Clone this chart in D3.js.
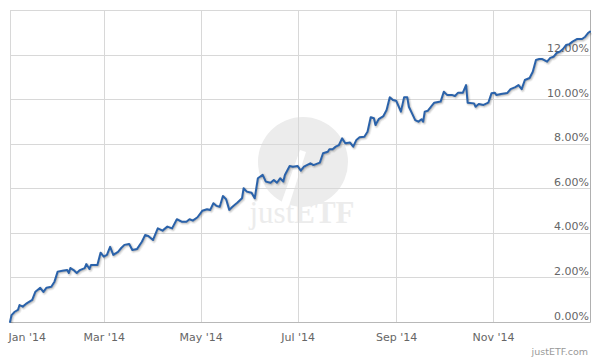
<!DOCTYPE html>
<html><head><meta charset="utf-8">
<script src="https://cdn.jsdelivr.net/npm/d3@7"></script>
<style>body{margin:0;background:#fff}svg{display:block;font-family:"DejaVu Sans",sans-serif}</style>
</head><body><svg id="c" width="600" height="360"></svg>
<script>
// Day offsets from 1 Jan 2014 and cumulative performance (%)
const dayOffsets = [0,1,3,5,6,8,10,14,16,19,21,23,26,28,30,33,36,37,38,40,42,44,47,48,50,51,55,57,59,61,63,65,68,70,72,75,77,80,83,85,87,90,93,96,99,102,105,108,111,113,115,118,121,124,126,128,130,132,134,136,138,140,143,146,147,149,152,154,156,159,161,164,166,168,170,172,173,176,178,181,183,185,189,191,195,197,200,201,203,205,207,209,211,214,216,218,220,223,225,227,229,230,232,235,237,239,241,243,246,248,250,251,253,255,257,259,260,261,263,265,267,271,273,275,278,280,282,285,287,288,292,293,295,298,301,303,305,306,309,313,315,318,320,322,324,327,329,331,333,335,338,340,342,344,346,348,350,352,354,357,360,362,364,365];
const perfValues = [0.0,0.31,0.46,0.54,0.76,0.69,0.81,0.99,1.36,1.53,1.35,1.54,1.58,1.81,2.26,2.30,2.33,2.20,2.42,2.33,2.20,2.33,2.42,2.60,2.38,2.56,2.56,3.11,2.93,3.01,3.37,3.01,3.15,3.32,3.46,3.50,3.23,3.28,3.60,3.90,3.86,3.68,4.20,4.10,4.28,4.20,4.61,4.50,4.50,4.61,4.55,4.70,4.99,5.06,5.03,5.33,5.21,5.17,5.65,5.51,5.03,5.17,5.35,5.55,6.00,5.85,5.80,5.55,6.45,6.60,6.30,6.25,6.37,6.25,6.45,6.30,6.60,7.00,6.97,7.00,6.79,6.97,7.12,7.04,7.15,7.57,7.64,7.75,7.75,7.87,7.94,8.24,8.02,8.05,7.87,8.17,8.29,8.31,8.54,9.19,9.14,8.84,9.10,9.24,9.51,10.08,9.96,9.93,9.44,10.08,10.08,9.66,9.36,9.06,8.99,9.10,8.99,9.44,9.48,9.66,9.84,9.89,10.33,10.19,10.19,10.14,10.29,10.29,10.63,9.84,9.81,9.66,9.78,9.74,9.84,10.26,10.29,10.19,10.23,10.28,10.45,10.54,10.63,10.45,10.86,10.95,11.23,11.76,11.80,11.80,11.68,11.85,11.90,12.07,12.13,12.25,12.43,12.47,12.58,12.70,12.70,12.80,12.98,13.03];
const xTickDates = ["2014-01-01","2014-03-01","2014-05-01","2014-07-01","2014-09-01","2014-11-01"];
const xTickLabels = ["Jan '14","Mar '14","May '14","Jul '14","Sep '14","Nov '14"];
const yTickValues = [0,2,4,6,8,10,12,14];

const svg = d3.select("#c");
const L = 10, R = 590, T = 10, B = 322;
const start = new Date(2014,0,1);
const parse = d3.timeParse("%Y-%m-%d");
const x = d3.scaleTime().domain([start, new Date(2015,0,1)]).range([L, R]);
const y = d3.scaleLinear().domain([0,14]).range([B, T]);
const data = dayOffsets.map((d,i)=>({date:d3.timeDay.offset(start,d), v:perfValues[i]}));

// watermark
const wm = svg.append("g");
wm.append("circle").attr("cx",303).attr("cy",162).attr("r",45).attr("fill","#ececec");
wm.append("path").attr("d","M300,150 L306,152 L287,212 L278,212 Z").attr("fill","#fff");
const wt = wm.append("text").attr("x",302).attr("y",223).attr("text-anchor","middle")
  .attr("font-family","'Liberation Serif','DejaVu Serif',serif").attr("font-size",31).attr("fill","#ececec");
wt.append("tspan").text("just");
wt.append("tspan").attr("font-weight","bold").text("ETF");

// horizontal grid
svg.append("g").selectAll("line").data(yTickValues).join("line")
  .attr("x1",L).attr("x2",R)
  .attr("y1",d=>Math.round(y(d))+0.5).attr("y2",d=>Math.round(y(d))+0.5)
  .attr("stroke","#d8d8d8");
// vertical grid
svg.append("g").selectAll("line").data(xTickDates).join("line")
  .attr("x1",d=>Math.round(x(parse(d)))+0.5).attr("x2",d=>Math.round(x(parse(d)))+0.5)
  .attr("y1",T).attr("y2",B)
  .attr("stroke","#d8d8d8");

// x axis
const xAxis = d3.axisBottom(x).tickValues(xTickDates.map(parse))
  .tickFormat((d,i)=>xTickLabels[i]).tickSize(0).tickPadding(0);
const gx = svg.append("g").attr("transform",`translate(0,${B})`).call(xAxis);
gx.select(".domain").remove();
gx.selectAll("text").attr("font-family","'DejaVu Sans',sans-serif").attr("font-size",11)
  .attr("fill","#666").attr("dy",null).attr("y",19);
gx.selectAll(".tick").filter((d,i)=>i===0).select("text").attr("text-anchor","start").attr("x",-2);
svg.append("line").attr("x1",L).attr("x2",R+0.5).attr("y1",B+0.5).attr("y2",B+0.5).attr("stroke","#b8b8b8");

// y axis (right, labels inside)
const yAxis = d3.axisRight(y).tickValues(yTickValues.slice(0,7))
  .tickFormat(d=>d3.format(".2f")(d)+"%").tickSize(0).tickPadding(0);
const gy = svg.append("g").attr("transform",`translate(${R-1},0)`).call(yAxis);
gy.select(".domain").remove();
gy.selectAll("text").attr("font-family","'DejaVu Sans',sans-serif").attr("font-size",11)
  .attr("fill","#666").attr("text-anchor","end").attr("dy",null).attr("y",-3).attr("x",0);
svg.append("line").attr("x1",R+0.5).attr("x2",R+0.5).attr("y1",T).attr("y2",B+0.5).attr("stroke","#b0b0b0");

// line with shadow
const line = d3.line().x(d=>x(d.date)).y(d=>y(d.v));
[[5,0.05],[3,0.1],[1,0.15]].forEach(([w,o])=>{
  svg.append("path").datum(data).attr("d",line).attr("fill","none")
    .attr("stroke","#000").attr("stroke-opacity",o).attr("stroke-width",w)
    .attr("stroke-linejoin","round").attr("transform","translate(1,1)");
});
svg.append("path").datum(data).attr("d",line).attr("fill","none")
  .attr("stroke","#2a62aa").attr("stroke-width",2).attr("stroke-linejoin","round").attr("stroke-linecap","round");

// credits
svg.append("text").attr("x",588).attr("y",355).attr("text-anchor","end")
  .attr("font-family","'DejaVu Sans',sans-serif").attr("font-size",9.5).attr("fill","#999").text("justETF.com");
</script></body></html>
